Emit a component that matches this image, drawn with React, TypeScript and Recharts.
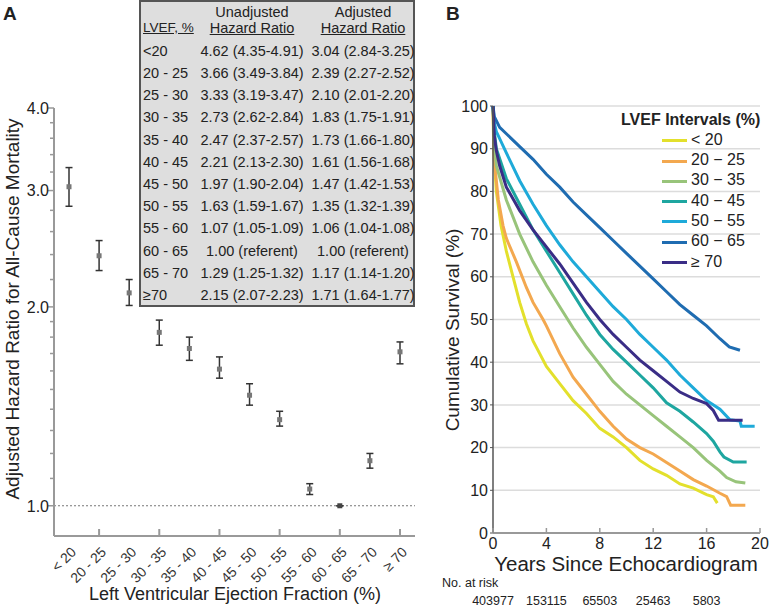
import React from 'react';
import { ComposedChart, LineChart, Line, ErrorBar, XAxis, YAxis, ReferenceLine, CartesianGrid } from 'recharts';

const FONT = 'Arial, "Liberation Sans", Helvetica, sans-serif';

// ---- Panel A: hazard ratios by LVEF ----
const lvefRows = ['<20', '20 - 25', '25 - 30', '30 - 35', '35 - 40', '40 - 45', '45 - 50', '50 - 55', '55 - 60', '60 - 65', '65 - 70', '≥70'];
const xLabels = ['< 20', '20 - 25', '25 - 30', '30 - 35', '35 - 40', '40 - 45', '45 - 50', '50 - 55', '55 - 60', '60 - 65', '65 - 70', '≥ 70'];
const unadjustedHR = [
  '4.62 (4.35-4.91)', '3.66 (3.49-3.84)', '3.33 (3.19-3.47)', '2.73 (2.62-2.84)', '2.47 (2.37-2.57)', '2.21 (2.13-2.30)',
  '1.97 (1.90-2.04)', '1.63 (1.59-1.67)', '1.07 (1.05-1.09)', '1.00 (referent)', '1.29 (1.25-1.32)', '2.15 (2.07-2.23)',
];
const adjustedHR = [3.04, 2.39, 2.10, 1.83, 1.73, 1.61, 1.47, 1.35, 1.06, 1.00, 1.17, 1.71];
const adjustedLow = [2.84, 2.27, 2.01, 1.75, 1.66, 1.56, 1.42, 1.32, 1.04, 1.00, 1.14, 1.64];
const adjustedHigh = [3.25, 2.52, 2.20, 1.91, 1.80, 1.68, 1.53, 1.39, 1.08, 1.00, 1.20, 1.77];
const referentIndex = 9;
const hrTicks = [1, 1.1, 1.2, 1.3, 1.4, 1.5, 1.6, 1.7, 1.8, 1.9, 2, 2.2, 2.4, 2.6, 2.8, 3, 3.2, 3.4, 3.6, 3.8, 4];

const hrData = xLabels.map((cat, i) => ({
  cat,
  hr: adjustedHR[i],
  err: [adjustedHR[i] - adjustedLow[i], adjustedHigh[i] - adjustedHR[i]],
}));

const adjustedText = adjustedHR.map((v, i) =>
  i === referentIndex ? '1.00 (referent)' : `${v.toFixed(2)} (${adjustedLow[i].toFixed(2)}-${adjustedHigh[i].toFixed(2)})`
);

// ---- Panel B: survival curves ----
const lt20 = [[0, 100], [0.05, 90], [0.25, 80], [0.6, 72], [1, 66], [1.5, 60], [2, 54], [2.5, 49], [3, 45], [3.5, 42], [4, 39], [5, 35], [6, 31], [7, 28], [8, 24.5], [9, 22.5], [10, 20], [11, 17], [12, 15], [13, 13.5], [14, 11.5], [15, 10.5], [16, 9], [16.5, 8.5], [16.8, 7]];
const ef20 = [[0, 100], [0.1, 87], [0.4, 78], [0.75, 72], [1, 69], [1.75, 63.5], [2.5, 57.5], [3, 54], [3.75, 50], [4, 48.5], [5, 42], [6, 36.5], [7, 32.5], [8, 28.5], [9, 25], [10, 22], [11, 20], [12, 18.5], [13, 16.5], [14, 14.5], [15, 12.5], [16, 11], [17, 9.3], [17.5, 8.5], [17.8, 6.5], [18.9, 6.5]];
const ef30 = [[0, 100], [0.1, 91], [0.25, 86], [1, 78], [2, 70], [3, 63.5], [4, 58], [5, 53], [6, 48], [7, 43.5], [8, 39.5], [9, 35.5], [10, 32.5], [11, 30], [12, 27.5], [13, 25], [14, 22.5], [15, 20], [16, 17], [17, 14.5], [17.5, 13], [18.2, 12], [18.9, 11.7]];
const ef40 = [[0, 100], [0.1, 94], [0.25, 90], [1, 83], [2, 77], [3, 71], [4, 66], [5, 61], [6, 56], [7, 51], [8, 46.5], [9, 43], [10, 40], [11, 37], [12, 34], [13, 30.5], [14, 28.5], [15, 26], [16, 23.3], [16.5, 21.5], [17, 19], [17.3, 17.8], [18, 16.6], [19, 16.6]];
const ef50 = [[0, 100], [0.1, 96], [0.25, 94], [1, 89], [2, 82.5], [3, 77], [4, 72], [5, 67.5], [6, 63.5], [7, 60], [8, 56.5], [9, 53], [10, 50], [11, 46.5], [12, 43.5], [13, 40.5], [14, 37], [15, 34], [16, 31], [17, 29], [17.75, 26.5], [18.5, 26.2], [18.6, 25], [19.6, 25]];
const ef60 = [[0, 100], [0.1, 97.5], [0.5, 95], [1, 93.5], [2, 90.5], [3, 87.5], [4, 84], [5, 81], [6, 77.5], [7, 74.5], [8, 71.5], [9, 68.5], [10, 65.5], [11, 62.5], [12, 59.5], [13, 56.5], [14, 53.5], [15, 51], [16, 48.5], [17, 45.5], [17.7, 43.6], [18.5, 42.8]];
const ef70 = [[0, 100], [0.1, 93], [0.25, 89.5], [0.5, 86], [1, 81], [2, 75.5], [3, 71], [4, 67], [5, 63], [6, 58.5], [7, 54], [8, 50], [9, 46.5], [10, 43.5], [11, 40.5], [12, 38], [13, 35.5], [14, 33], [15, 31.5], [16, 30.3], [16.5, 28.7], [16.9, 26.4], [18.7, 26.4]];

const seriesNames = ['< 20', '20 − 25', '30 − 35', '40 − 45', '50 − 55', '60 − 65', '≥ 70'];
const seriesColors = ['#e3e02c', '#f3a84f', '#98c47a', '#1ea6a0', '#1eaad9', '#1f6cb1', '#3a2d86'];
const seriesPoints = [lt20, ef20, ef30, ef40, ef50, ef60, ef70];

const yearTicks = [0, 4, 8, 12, 16, 20];
const survTicks = [0, 10, 20, 30, 40, 50, 60, 70, 80, 90, 100];
const atRisk = ['403977', '153115', '65503', '25463', '5803'];

const series = seriesNames.map((name, i) => ({
  name,
  color: seriesColors[i],
  data: seriesPoints[i].map(([t, s]) => ({ t, s })),
}));

const HrYTick = (props: any) => {
  const { x, y, payload } = props;
  const major = Number.isInteger(payload.value);
  return (
    <g>
      <line x1={x - (major ? 6 : 4)} x2={x} y1={y} y2={y} stroke="#999" strokeWidth={1.5} />
      {major && (
        <text x={x - 5} y={y} dy="0.36em" textAnchor="end" fontSize={16} fill="#222" fontFamily={FONT}>
          {payload.value.toFixed(1)}
        </text>
      )}
    </g>
  );
};

const HrXTick = (props: any) => {
  const { x, y, payload, index } = props;
  return (
    <g>
      {index % 2 === 1 && <line x1={x} x2={x} y1={y} y2={y - 7} stroke="#999" strokeWidth={2} />}
      <text transform={`translate(${x + 8},${y + 17}) rotate(-45)`} textAnchor="end" fontSize={14} fill="#333" fontFamily={FONT}>
        {payload.value}
      </text>
    </g>
  );
};

const SquareDot = (props: any) => {
  const { cx, cy, index } = props;
  if (cx == null || cy == null) return null;
  return <rect x={cx - 2.5} y={cy - 2.5} width={5} height={5} fill={index === referentIndex ? '#444' : '#777'} />;
};

const SurvXTick = (props: any) => {
  const { x, y, payload, index } = props;
  return (
    <g>
      <line x1={x} x2={x} y1={y} y2={y - 5} stroke="#999" strokeWidth={1.5} />
      <text x={x} y={y + 16} textAnchor="middle" fontSize={16} fill="#222" fontFamily={FONT}>
        {payload.value}
      </text>
      {atRisk[index] && (
        <text x={x} y={y + 72} textAnchor="middle" fontSize={12.5} fill="#222" fontFamily={FONT}>
          {atRisk[index]}
        </text>
      )}
    </g>
  );
};

const abs = (s: React.CSSProperties): React.CSSProperties => ({ position: 'absolute', ...s });

export default function App() {
  const rowTop = (i: number) => 49.3 + i * 22.2 - 8.5;
  return (
    <div style={abs({ left: 0, top: 0, width: 769, height: 607, background: '#fff', fontFamily: FONT, color: '#222', overflow: 'hidden' })}>
      <div style={abs({ left: 3, top: 3, fontSize: 19, fontWeight: 'bold' })}>A</div>
      <div style={abs({ left: 446, top: 3, fontSize: 19, fontWeight: 'bold' })}>B</div>

      <div style={abs({ left: 0, top: 0 })}>
        <ComposedChart width={430} height={607} data={hrData} margin={{ top: 108, right: 15, bottom: 11, left: 24 }}>
          <XAxis
            dataKey="cat"
            height={60}
            interval={0}
            padding={{ left: 15, right: 15 }}
            tickSize={0}
            tickMargin={0}
            tickLine={false}
            tick={(p: any) => <HrXTick {...p} />}
            axisLine={{ stroke: '#999', strokeWidth: 2 }}
          />
          <YAxis
            type="number"
            scale="log"
            domain={[0.9, 4]}
            ticks={hrTicks}
            interval={0}
            allowDataOverflow
            width={30}
            tickSize={0}
            tickMargin={0}
            tickLine={false}
            tick={(p: any) => <HrYTick {...p} />}
            axisLine={{ stroke: '#999', strokeWidth: 2 }}
          />
          <ReferenceLine y={1} stroke="#777" strokeDasharray="2 2" strokeWidth={1.2} />
          <Line dataKey="hr" stroke="none" isAnimationActive={false} dot={(p: any) => <SquareDot key={p.index} {...p} />} activeDot={false}>
            <ErrorBar dataKey="err" direction="y" width={3.5} stroke="#333" strokeWidth={1.5} />
          </Line>
        </ComposedChart>
      </div>

      <div style={abs({ left: 13, top: 309, transform: 'translate(-50%,-50%) rotate(-90deg)', whiteSpace: 'nowrap', fontSize: 19 })}>
        Adjusted Hazard Ratio for All-Cause Mortality
      </div>
      <div style={abs({ left: 35, top: 584, width: 400, textAlign: 'center', fontSize: 18, whiteSpace: 'nowrap' })}>
        Left Ventricular Ejection Fraction (%)
      </div>

      <div style={abs({ left: 139, top: 0, width: 276, height: 307, boxSizing: 'border-box', background: '#dedede', border: '2px solid #555', fontSize: 14.5 })}>
        <div style={abs({ left: 56, top: 2, width: 110, textAlign: 'center' })}>Unadjusted</div>
        <div style={abs({ left: 167, top: 2, width: 110, textAlign: 'center' })}>Adjusted</div>
        <div style={abs({ left: 2, top: 18, textDecoration: 'underline', fontSize: 13.5 })}>LVEF, %</div>
        <div style={abs({ left: 56, top: 18, width: 110, textAlign: 'center' })}>
          <span style={{ textDecoration: 'underline' }}>Hazard Ratio</span>
        </div>
        <div style={abs({ left: 167, top: 18, width: 110, textAlign: 'center' })}>
          <span style={{ textDecoration: 'underline' }}>Hazard Ratio</span>
        </div>
        {lvefRows.map((r, i) => (
          <React.Fragment key={r}>
            <div style={abs({ left: 2, top: rowTop(i) })}>{r}</div>
            <div style={abs({ left: 51, top: rowTop(i), width: 120, textAlign: 'center', whiteSpace: 'nowrap' })}>{unadjustedHR[i]}</div>
            <div style={abs({ left: 162, top: rowTop(i), width: 120, textAlign: 'center', whiteSpace: 'nowrap' })}>{adjustedText[i]}</div>
          </React.Fragment>
        ))}
      </div>

      <div style={abs({ left: 440, top: 0 })}>
        <LineChart width={329} height={607} margin={{ top: 106, right: 9, bottom: 44, left: 13 }}>
          <CartesianGrid vertical={false} stroke="#dcdcdc" strokeWidth={1.5} />
          <XAxis
            type="number"
            dataKey="t"
            domain={[0, 20]}
            ticks={yearTicks}
            interval={0}
            height={30}
            tickSize={0}
            tickMargin={0}
            tickLine={false}
            tick={(p: any) => <SurvXTick {...p} />}
            axisLine={{ stroke: '#999', strokeWidth: 2 }}
          />
          <YAxis
            type="number"
            domain={[0, 100]}
            ticks={survTicks}
            interval={0}
            width={40}
            tickSize={3}
            tickMargin={2}
            tick={{ fontSize: 16, fill: '#222', fontFamily: FONT }}
            tickLine={{ stroke: '#555' }}
            axisLine={{ stroke: '#555', strokeWidth: 1.5 }}
          />
          {series.map((s) => (
            <Line
              key={s.name}
              data={s.data}
              dataKey="s"
              type="linear"
              stroke={s.color}
              strokeWidth={3}
              dot={false}
              activeDot={false}
              isAnimationActive={false}
            />
          ))}
        </LineChart>
      </div>

      <div style={abs({ left: 453, top: 330, transform: 'translate(-50%,-50%) rotate(-90deg)', whiteSpace: 'nowrap', fontSize: 19 })}>
        Cumulative Survival (%)
      </div>
      <div style={abs({ left: 476, top: 554, width: 300, textAlign: 'center', fontSize: 20.5, lineHeight: '20px', whiteSpace: 'nowrap' })}>
        Years Since Echocardiogram
      </div>
      <div style={abs({ left: 442, top: 576, fontSize: 12.5 })}>No. at risk</div>

      <div style={abs({ left: 621, top: 111, fontSize: 16, fontWeight: 'bold', whiteSpace: 'nowrap' })}>LVEF Intervals (%)</div>
      {series.map((s, i) => (
        <React.Fragment key={s.name}>
          <div style={abs({ left: 662, top: 140.7 + i * 20.3 - 1.5, width: 25, height: 3, background: s.color })} />
          <div style={abs({ left: 691, top: 140.7 + i * 20.3 - 10, fontSize: 16, whiteSpace: 'nowrap' })}>{s.name}</div>
        </React.Fragment>
      ))}
    </div>
  );
}
